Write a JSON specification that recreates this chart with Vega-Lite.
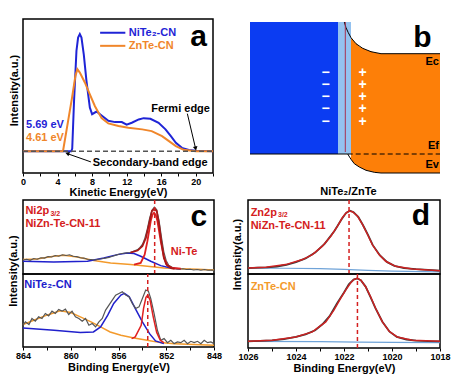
{
"$schema": "https://vega.github.io/schema/vega-lite/v6.json",
"padding": {"left": 6, "top": 18, "right": 0, "bottom": 0},
"config": {
  "font": "Liberation Sans",
  "view": {"stroke": "#000", "strokeWidth": 1.5},
  "axis": {"grid": false, "domain": false, "labelFont": "Liberation Sans", "labelFontWeight": "bold", "labelFontSize": 9, "labelColor": "#000", "labelPadding": 1, "labelFlush": false, "labelOverlap": false, "titleFont": "Liberation Sans", "titleFontWeight": "bold", "titleFontSize": 11, "titleColor": "#000", "tickColor": "#000", "tickSize": 3, "tickWidth": 1},
  "text": {"font": "Liberation Sans", "fontWeight": "bold"}
},
"datasets": {
  "aBlue": [{"e":0,"i":0},{"e":5.6,"i":0},{"e":5.7,"i":0.02},{"e":5.91,"i":0.38},{"e":6.19,"i":0.76},{"e":6.38,"i":0.86},{"e":6.58,"i":0.886},{"e":6.77,"i":0.86},{"e":7.04,"i":0.73},{"e":7.35,"i":0.53},{"e":7.74,"i":0.33},{"e":8.0,"i":0.28},{"e":8.52,"i":0.3},{"e":9.1,"i":0.27},{"e":9.88,"i":0.23},{"e":10.66,"i":0.22},{"e":11.44,"i":0.22},{"e":12.0,"i":0.2},{"e":12.6,"i":0.215},{"e":13.4,"i":0.24},{"e":13.97,"i":0.25},{"e":14.75,"i":0.245},{"e":15.7,"i":0.215},{"e":16.5,"i":0.165},{"e":17.1,"i":0.115},{"e":17.7,"i":0.063},{"e":18.4,"i":0.025},{"e":19.2,"i":0.01},{"e":20,"i":0.003},{"e":22,"i":0}],
  "aOrange": [{"e":0,"i":0},{"e":4.63,"i":0},{"e":5.68,"i":0.405},{"e":6.07,"i":0.57},{"e":6.3,"i":0.62},{"e":6.58,"i":0.595},{"e":7.16,"i":0.52},{"e":7.74,"i":0.43},{"e":8.33,"i":0.34},{"e":9.1,"i":0.25},{"e":9.88,"i":0.21},{"e":11.05,"i":0.19},{"e":12.2,"i":0.177},{"e":13.8,"i":0.165},{"e":14.9,"i":0.152},{"e":16.1,"i":0.114},{"e":16.9,"i":0.076},{"e":17.7,"i":0.038},{"e":18.6,"i":0.01},{"e":20,"i":0},{"e":22,"i":0}],
  "aBase": [{"e":0,"e2":22,"i":0}],
  "aLegend": [{"e":8.93,"e2":11.85,"i":0.896,"s":"NiTe₂-CN"},{"e":8.93,"e2":11.85,"i":0.797,"s":"ZnTe-CN"}],
  "aArrows": [{"e":19.03,"i":0.284,"e2":19.95,"i2":0.03},{"e":7.86,"i":-0.081,"e2":5.2,"i2":-0.02}],
  "aHeadF": [{"e":19.97,"i":0.025}],
  "aHeadS": [{"e":5.2,"i":-0.019}],
  "aText": [{"e":0.35,"i":0.197,"t":"5.69 eV","s":"NiTe₂-CN"},{"e":0.35,"i":0.099,"t":"4.61 eV","s":"ZnTe-CN"},{"e":14.85,"i":0.319,"t":"Fermi edge","s":"note"},{"e":8.07,"i":-0.091,"t":"Secondary-band edge","s":"note"},{"e":12.24,"i":0.896,"t":"NiTe₂-CN","s":"NiTe₂-CN"},{"e":12.24,"i":0.797,"t":"ZnTe-CN","s":"ZnTe-CN"}],
  "aLetter": [{"e":20.33,"i":0.797,"t":"a"}],
  "bBlue": [{"e":0,"e2":88,"i":19,"i2":151}],
  "bLight": [{"e":88,"e2":101,"i":19,"i2":151}],
  "bOrange": [{"e":101,"i":135.3,"i2":13.7},{"e":104.3,"i":131.3,"i2":9.3},{"e":109.3,"i":126.5,"i2":6},{"e":116,"i":123.3,"i2":2.7},{"e":124.3,"i":120.5,"i2":0.7},{"e":131,"i":119.3,"i2":0},{"e":190,"i":119.3,"i2":0}],
  "bTop": [{"e":94.3,"i":151},{"e":96,"i":145.3},{"e":98.3,"i":140.3},{"e":101,"i":135.3},{"e":106,"i":129.3},{"e":112.7,"i":124.7},{"e":121,"i":121.3},{"e":131,"i":119.3},{"e":190,"i":119.3}],
  "bBottom": [{"e":97.7,"i":19},{"e":101,"i":13.7},{"e":104.3,"i":9.3},{"e":109.3,"i":6},{"e":116,"i":2.7},{"e":124.3,"i":0.7},{"e":131,"i":0},{"e":190,"i":0}],
  "bRed": [{"e":95.3,"i":21,"i2":151}],
  "bSolid": [{"e":0,"e2":97.7,"i":19}],
  "bDash": [{"e":97.7,"e2":190,"i":19}],
  "bSigns": [{"e":75.7,"i":99.7,"t":"−"},{"e":75.7,"i":88,"t":"−"},{"e":75.7,"i":76,"t":"−"},{"e":75.7,"i":63.7,"t":"−"},{"e":75.7,"i":51.3,"t":"−"},{"e":112.7,"i":99.7,"t":"+"},{"e":112.7,"i":88,"t":"+"},{"e":112.7,"i":76,"t":"+"},{"e":112.7,"i":63.7,"t":"+"},{"e":112.7,"i":51.3,"t":"+"}],
  "bLabels": [{"e":189,"i":111,"t":"Ec"},{"e":189,"i":27,"t":"Ef"},{"e":189,"i":8,"t":"Ev"}],
  "bLetter": [{"e":172.5,"i":126,"t":"b"}],
  "c1Orange": [{"e":864,"i":0.195},{"e":862.83,"i":0.204},{"e":861.43,"i":0.24},{"e":860.59,"i":0.253},{"e":859.46,"i":0.231},{"e":858.07,"i":0.181},{"e":856.66,"i":0.149},{"e":854.98,"i":0.127},{"e":853.58,"i":0.104},{"e":852.18,"i":0.081},{"e":850.78,"i":0.072},{"e":849.38,"i":0.063},{"e":848,"i":0.054}],
  "c1Blue": [{"e":864,"i":0.172},{"e":861.43,"i":0.163},{"e":858.6,"i":0.172},{"e":857.23,"i":0.217},{"e":856.1,"i":0.262},{"e":855.26,"i":0.285},{"e":854.7,"i":0.276},{"e":854.14,"i":0.24},{"e":853.3,"i":0.172},{"e":852.46,"i":0.113},{"e":851.62,"i":0.081},{"e":850.78,"i":0.068}],
  "c1Gray": [{"e":864,"i":0.19},{"e":863.7,"i":0.2},{"e":863.4,"i":0.185},{"e":863.1,"i":0.21},{"e":862.8,"i":0.2},{"e":862.5,"i":0.22},{"e":862.2,"i":0.215},{"e":861.9,"i":0.235},{"e":861.6,"i":0.23},{"e":861.3,"i":0.25},{"e":861.0,"i":0.24},{"e":860.7,"i":0.26},{"e":860.4,"i":0.25},{"e":860.1,"i":0.26},{"e":859.8,"i":0.24},{"e":859.5,"i":0.235},{"e":859.2,"i":0.22},{"e":858.9,"i":0.215},{"e":858.6,"i":0.2},{"e":858.3,"i":0.195},{"e":858.0,"i":0.19},{"e":857.7,"i":0.2},{"e":857.4,"i":0.205},{"e":857.1,"i":0.215},{"e":856.8,"i":0.225},{"e":856.5,"i":0.24},{"e":856.2,"i":0.255},{"e":855.9,"i":0.27},{"e":855.6,"i":0.28},{"e":855.3,"i":0.285},{"e":855.0,"i":0.29},{"e":854.7,"i":0.31},{"e":854.4,"i":0.33},{"e":854.2,"i":0.36},{"e":854.0,"i":0.4},{"e":853.8,"i":0.48},{"e":853.6,"i":0.6},{"e":853.4,"i":0.75},{"e":853.2,"i":0.86},{"e":853.0,"i":0.905},{"e":852.8,"i":0.87},{"e":852.6,"i":0.72},{"e":852.4,"i":0.5},{"e":852.2,"i":0.3},{"e":852.0,"i":0.18},{"e":851.8,"i":0.12},{"e":851.5,"i":0.09},{"e":851.2,"i":0.07},{"e":850.9,"i":0.065},{"e":850.6,"i":0.07},{"e":850.3,"i":0.06},{"e":850.0,"i":0.065},{"e":849.7,"i":0.055},{"e":849.4,"i":0.06},{"e":849.1,"i":0.05},{"e":848.8,"i":0.06},{"e":848.5,"i":0.05},{"e":848.2,"i":0.055},{"e":848,"i":0.05}],
  "c1Red": [{"e":854.7,"i":0.127},{"e":854.14,"i":0.149},{"e":853.81,"i":0.262},{"e":853.58,"i":0.443},{"e":853.3,"i":0.715},{"e":853.16,"i":0.8},{"e":853.02,"i":0.828},{"e":852.88,"i":0.8},{"e":852.74,"i":0.715},{"e":852.46,"i":0.443},{"e":852.18,"i":0.217},{"e":851.9,"i":0.113},{"e":851.48,"i":0.081},{"e":850.78,"i":0.072}],
  "c1Env": [{"e":855.0,"i":0.29},{"e":854.4,"i":0.317},{"e":854.0,"i":0.376},{"e":853.7,"i":0.489},{"e":853.45,"i":0.67},{"e":853.2,"i":0.851},{"e":853.0,"i":0.882},{"e":852.8,"i":0.851},{"e":852.6,"i":0.67},{"e":852.4,"i":0.42},{"e":852.2,"i":0.22},{"e":852.0,"i":0.13},{"e":851.6,"i":0.08},{"e":851.3,"i":0.07}],
  "c1Dash": [{"e":852.97,"i":0,"i2":1}],
  "c1Text": [{"e":863.8,"i":0.847,"t":"Ni2p"},{"e":863.8,"i":0.676,"t":"NiZn-Te-CN-11"},{"e":851.62,"i":0.293,"t":"Ni-Te"}],
  "c1Sub": [{"e":861.7,"i":0.815,"t":"3/2"}],
  "c1Letter": [{"e":849.27,"i":0.65,"t":"c"}],
  "c2Orange": [{"e":864,"i":0.307},{"e":863.1,"i":0.367},{"e":862.0,"i":0.436},{"e":860.9,"i":0.495},{"e":860.0,"i":0.472},{"e":859.2,"i":0.413},{"e":858.3,"i":0.344},{"e":857.5,"i":0.275},{"e":856.7,"i":0.206},{"e":855.8,"i":0.161},{"e":854.7,"i":0.124},{"e":853.6,"i":0.092},{"e":852.5,"i":0.06},{"e":851.3,"i":0.046},{"e":850.2,"i":0.037},{"e":848,"i":0.023}],
  "c2Blue": [{"e":864,"i":0.261},{"e":861.4,"i":0.229},{"e":859.2,"i":0.197},{"e":858.1,"i":0.206},{"e":857.5,"i":0.275},{"e":856.9,"i":0.436},{"e":856.4,"i":0.596},{"e":855.8,"i":0.711},{"e":855.5,"i":0.734},{"e":855.1,"i":0.688},{"e":854.6,"i":0.528},{"e":854.0,"i":0.344},{"e":853.4,"i":0.183},{"e":852.9,"i":0.083},{"e":852.2,"i":0.046}],
  "c2Gray": [{"e":864,"i":0.3},{"e":863.8,"i":0.344},{"e":863.5,"i":0.307},{"e":863.25,"i":0.39},{"e":862.97,"i":0.353},{"e":862.69,"i":0.413},{"e":862.41,"i":0.39},{"e":862.13,"i":0.459},{"e":861.85,"i":0.427},{"e":861.57,"i":0.491},{"e":861.29,"i":0.459},{"e":861.01,"i":0.514},{"e":860.73,"i":0.491},{"e":860.45,"i":0.518},{"e":860.17,"i":0.445},{"e":859.89,"i":0.491},{"e":859.61,"i":0.413},{"e":859.32,"i":0.39},{"e":859.04,"i":0.353},{"e":858.76,"i":0.39},{"e":858.48,"i":0.298},{"e":858.2,"i":0.321},{"e":857.92,"i":0.275},{"e":857.64,"i":0.344},{"e":857.36,"i":0.39},{"e":857.08,"i":0.505},{"e":856.8,"i":0.573},{"e":856.52,"i":0.642},{"e":856.24,"i":0.711},{"e":855.96,"i":0.734},{"e":855.68,"i":0.757},{"e":855.4,"i":0.711},{"e":855.12,"i":0.688},{"e":854.84,"i":0.596},{"e":854.56,"i":0.528},{"e":854.28,"i":0.55},{"e":854.0,"i":0.665},{"e":853.72,"i":0.78},{"e":853.5,"i":0.766},{"e":853.3,"i":0.665},{"e":853.02,"i":0.459},{"e":852.74,"i":0.229},{"e":852.46,"i":0.092},{"e":852.18,"i":0.115},{"e":851.9,"i":0.06},{"e":851.62,"i":0.092},{"e":851.34,"i":0.046},{"e":851.06,"i":0.069},{"e":850.78,"i":0.06},{"e":850.5,"i":0.092},{"e":850.22,"i":0.046},{"e":849.94,"i":0.078},{"e":849.66,"i":0.06},{"e":849.38,"i":0.078},{"e":849.1,"i":0.046},{"e":848.82,"i":0.092},{"e":848.54,"i":0.06},{"e":848.26,"i":0.069},{"e":848,"i":0.046}],
  "c2Red": [{"e":854.9,"i":0.115},{"e":854.6,"i":0.138},{"e":854.1,"i":0.298},{"e":853.9,"i":0.528},{"e":853.7,"i":0.68},{"e":853.55,"i":0.711},{"e":853.35,"i":0.64},{"e":853.1,"i":0.42},{"e":852.8,"i":0.2},{"e":852.5,"i":0.092},{"e":852.2,"i":0.06}],
  "c2Dash": [{"e":853.55,"i":0,"i2":1}],
  "c2Text": [{"e":863.9,"i":0.849,"t":"NiTe₂-CN"}],
  "d1Gray": [{"e":1026,"i":0.08},{"e":1025.6,"i":0.085},{"e":1025.2,"i":0.09},{"e":1024.8,"i":0.1},{"e":1024.4,"i":0.125},{"e":1024.0,"i":0.16},{"e":1023.6,"i":0.21},{"e":1023.2,"i":0.29},{"e":1022.8,"i":0.41},{"e":1022.4,"i":0.58},{"e":1022.1,"i":0.74},{"e":1021.9,"i":0.83},{"e":1021.75,"i":0.855},{"e":1021.6,"i":0.835},{"e":1021.4,"i":0.77},{"e":1021.2,"i":0.655},{"e":1021.0,"i":0.53},{"e":1020.8,"i":0.39},{"e":1020.5,"i":0.25},{"e":1020.2,"i":0.16},{"e":1019.9,"i":0.11},{"e":1019.5,"i":0.08},{"e":1019.0,"i":0.065},{"e":1018.5,"i":0.055},{"e":1018,"i":0.045}],
  "d1Red": [{"e":1026,"i":0.081},{"e":1025.26,"i":0.09},{"e":1024.43,"i":0.127},{"e":1023.73,"i":0.195},{"e":1023.32,"i":0.262},{"e":1022.9,"i":0.376},{"e":1022.55,"i":0.511},{"e":1022.27,"i":0.647},{"e":1022.07,"i":0.76},{"e":1021.93,"i":0.819},{"e":1021.79,"i":0.851},{"e":1021.65,"i":0.842},{"e":1021.44,"i":0.783},{"e":1021.23,"i":0.67},{"e":1021.02,"i":0.534},{"e":1020.82,"i":0.398},{"e":1020.54,"i":0.262},{"e":1020.26,"i":0.172},{"e":1019.85,"i":0.104},{"e":1019.15,"i":0.068},{"e":1018,"i":0.045}],
  "d1Bg": [{"e":1026,"i":0.08},{"e":1024.5,"i":0.078},{"e":1023,"i":0.072},{"e":1022,"i":0.062},{"e":1021,"i":0.048},{"e":1020,"i":0.038},{"e":1018,"i":0.03}],
  "d1Dash": [{"e":1021.79,"i":0,"i2":1}],
  "d1Text": [{"e":1025.89,"i":0.824,"t":"Zn2p"},{"e":1025.89,"i":0.649,"t":"NiZn-Te-CN-11"}],
  "d1Sub": [{"e":1024.75,"i":0.792,"t":"3/2"}],
  "d1Letter": [{"e":1018.8,"i":0.662,"t":"d"}],
  "d2Gray": [{"e":1026,"i":0.09},{"e":1025.5,"i":0.095},{"e":1025,"i":0.104},{"e":1024.5,"i":0.12},{"e":1024,"i":0.15},{"e":1023.6,"i":0.185},{"e":1023.2,"i":0.24},{"e":1022.9,"i":0.32},{"e":1022.6,"i":0.43},{"e":1022.3,"i":0.6},{"e":1022.0,"i":0.75},{"e":1021.8,"i":0.86},{"e":1021.6,"i":0.925},{"e":1021.45,"i":0.94},{"e":1021.3,"i":0.915},{"e":1021.1,"i":0.83},{"e":1020.9,"i":0.69},{"e":1020.7,"i":0.545},{"e":1020.4,"i":0.355},{"e":1020.1,"i":0.22},{"e":1019.8,"i":0.15},{"e":1019.4,"i":0.115},{"e":1019,"i":0.1},{"e":1018.5,"i":0.092},{"e":1018,"i":0.09}],
  "d2Red": [{"e":1026,"i":0.09},{"e":1024.98,"i":0.104},{"e":1024.01,"i":0.149},{"e":1023.32,"i":0.217},{"e":1022.76,"i":0.353},{"e":1022.42,"i":0.511},{"e":1022.14,"i":0.67},{"e":1021.93,"i":0.783},{"e":1021.72,"i":0.882},{"e":1021.58,"i":0.928},{"e":1021.44,"i":0.941},{"e":1021.3,"i":0.919},{"e":1021.1,"i":0.828},{"e":1020.89,"i":0.692},{"e":1020.68,"i":0.534},{"e":1020.4,"i":0.353},{"e":1020.12,"i":0.226},{"e":1019.78,"i":0.149},{"e":1019.15,"i":0.104},{"e":1018,"i":0.09}],
  "d2Bg": [{"e":1026,"i":0.09},{"e":1023,"i":0.085},{"e":1021.4,"i":0.08},{"e":1020,"i":0.075},{"e":1018,"i":0.072}],
  "d2Dash": [{"e":1021.44,"i":0,"i2":1}],
  "d2Text": [{"e":1025.89,"i":0.824,"t":"ZnTe-CN"}]
},
"spacing": 0,
"vconcat": [
  {"hconcat": [
    {"width": 190, "height": 154,
     "encoding": {
       "x": {"field": "e", "type": "quantitative", "scale": {"domain": [0, 22], "nice": false}, "axis": {"values": [0,2,4,6,8,10,12,14,16,18,20,22], "format": "d", "labelExpr": "datum.value % 4 == 0 && datum.value <= 20 ? datum.label : ''", "title": "Kinetic Energy(eV)", "titlePadding": 0}},
       "y": {"field": "i", "type": "quantitative", "scale": {"domain": [-0.165, 1], "nice": false}, "axis": {"labels": false, "ticks": false, "title": "Intensity(a.u.)", "titlePadding": 4, "titleY": 71}}
     },
     "layer": [
       {"data": {"name": "aBlue"}, "mark": {"type": "line", "color": "#1f24d6", "strokeWidth": 2}},
       {"data": {"name": "aOrange"}, "mark": {"type": "line", "color": "#f0862a", "strokeWidth": 2}},
       {"data": {"name": "aBase"}, "mark": {"type": "rule", "color": "#555555", "strokeWidth": 1.5, "strokeDash": [5, 3]}, "encoding": {"x2": {"field": "e2"}}},
       {"data": {"name": "aLegend"}, "mark": {"type": "rule", "strokeWidth": 2}, "encoding": {"x2": {"field": "e2"}, "color": {"field": "s", "type": "nominal", "scale": {"domain": ["NiTe₂-CN", "ZnTe-CN", "note"], "range": ["#1f24d6", "#f0862a", "#000000"]}, "legend": null}}},
       {"data": {"name": "aArrows"}, "mark": {"type": "rule", "color": "#000", "strokeWidth": 1}, "encoding": {"x2": {"field": "e2"}, "y2": {"field": "i2"}}},
       {"data": {"name": "aHeadF"}, "mark": {"type": "point", "shape": "triangle", "angle": 167, "filled": true, "color": "#000", "size": 22, "opacity": 1}},
       {"data": {"name": "aHeadS"}, "mark": {"type": "point", "shape": "triangle", "angle": 290, "filled": true, "color": "#000", "size": 22, "opacity": 1}},
       {"data": {"name": "aText"}, "mark": {"type": "text", "align": "left", "baseline": "middle", "fontSize": 11}, "encoding": {"text": {"field": "t"}, "color": {"field": "s", "type": "nominal", "scale": {"domain": ["NiTe₂-CN", "ZnTe-CN", "note"], "range": ["#1f24d6", "#f0862a", "#000000"]}, "legend": null}}},
       {"data": {"name": "aLetter"}, "mark": {"type": "text", "align": "center", "baseline": "alphabetic", "fontSize": 30, "color": "#000"}, "encoding": {"text": {"field": "t"}}}
     ]},
    {"width": 190, "height": 154, "view": {"stroke": null},
     "encoding": {
       "x": {"field": "e", "type": "quantitative", "scale": {"domain": [0, 190], "nice": false, "zero": false}, "axis": {"title": "NiTe₂/ZnTe", "labels": false, "ticks": false, "domain": false, "titlePadding": 12, "titleX": 98}},
       "y": {"field": "i", "type": "quantitative", "scale": {"domain": [0, 154], "nice": false}, "axis": null}
     },
     "layer": [
       {"data": {"name": "bBlue"}, "mark": {"type": "rect", "color": "#0b3cf2"}, "encoding": {"x2": {"field": "e2"}, "y2": {"field": "i2"}}},
       {"data": {"name": "bLight"}, "mark": {"type": "rect", "color": "#94c2f0"}, "encoding": {"x2": {"field": "e2"}, "y2": {"field": "i2"}}},
       {"data": {"name": "bOrange"}, "mark": {"type": "area", "color": "#fd7f08", "opacity": 1}, "encoding": {"y2": {"field": "i2"}}},
       {"data": {"name": "bTop"}, "mark": {"type": "line", "color": "#000", "strokeWidth": 1}},
       {"data": {"name": "bBottom"}, "mark": {"type": "line", "color": "#000", "strokeWidth": 1}},
       {"data": {"name": "bRed"}, "mark": {"type": "rule", "color": "#a83050", "strokeWidth": 1}, "encoding": {"y2": {"field": "i2"}}},
       {"data": {"name": "bSolid"}, "mark": {"type": "rule", "color": "#000", "strokeWidth": 1.2}, "encoding": {"x2": {"field": "e2"}}},
       {"data": {"name": "bDash"}, "mark": {"type": "rule", "color": "#000", "strokeWidth": 1, "strokeDash": [5, 3]}, "encoding": {"x2": {"field": "e2"}}},
       {"data": {"name": "bSigns"}, "mark": {"type": "text", "color": "#ffffff", "fontSize": 14, "align": "center", "baseline": "middle"}, "encoding": {"text": {"field": "t"}}},
       {"data": {"name": "bLabels"}, "mark": {"type": "text", "color": "#000", "fontSize": 11, "align": "right", "baseline": "middle"}, "encoding": {"text": {"field": "t"}}},
       {"data": {"name": "bLetter"}, "mark": {"type": "text", "color": "#000", "fontSize": 30, "align": "center", "baseline": "alphabetic"}, "encoding": {"text": {"field": "t"}}}
     ]}
  ], "spacing": 31},
  {"hconcat": [
    {"vconcat": [
      {"width": 191, "height": 74,
       "encoding": {
         "x": {"field": "e", "type": "quantitative", "scale": {"domain": [848, 864], "reverse": true, "nice": false, "zero": false}, "axis": null},
         "y": {"field": "i", "type": "quantitative", "scale": {"domain": [0, 1], "nice": false}, "axis": {"labels": false, "ticks": false, "title": "Intensity(a.u.)", "titlePadding": 5, "titleY": 70.5}}
       },
       "layer": [
         {"data": {"name": "c1Orange"}, "mark": {"type": "line", "color": "#f39a2b", "strokeWidth": 1.5}},
         {"data": {"name": "c1Blue"}, "mark": {"type": "line", "color": "#2020cc", "strokeWidth": 1.5}},
         {"data": {"name": "c1Gray"}, "mark": {"type": "line", "color": "#555555", "strokeWidth": 1.1}},
         {"data": {"name": "c1Red"}, "mark": {"type": "line", "color": "#e02020", "strokeWidth": 1.8}},
         {"data": {"name": "c1Env"}, "mark": {"type": "line", "color": "#a81818", "strokeWidth": 1.8}},
         {"data": {"name": "c1Dash"}, "mark": {"type": "rule", "color": "#d42020", "strokeWidth": 1.5, "strokeDash": [4, 3]}, "encoding": {"y2": {"field": "i2"}}},
         {"data": {"name": "c1Text"}, "mark": {"type": "text", "color": "#d42020", "fontSize": 11, "align": "left", "baseline": "middle"}, "encoding": {"text": {"field": "t"}}},
         {"data": {"name": "c1Sub"}, "mark": {"type": "text", "color": "#d42020", "fontSize": 7, "align": "left", "baseline": "middle"}, "encoding": {"text": {"field": "t"}}},
         {"data": {"name": "c1Letter"}, "mark": {"type": "text", "color": "#000", "fontSize": 30, "align": "center", "baseline": "alphabetic"}, "encoding": {"text": {"field": "t"}}}
       ]},
      {"width": 191, "height": 73,
       "encoding": {
         "x": {"field": "e", "type": "quantitative", "scale": {"domain": [848, 864], "reverse": true, "nice": false, "zero": false}, "axis": {"values": [848,850,852,854,856,858,860,862,864], "format": "d", "labelExpr": "datum.value % 4 == 0 ? datum.label : ''", "title": "Binding Energy(eV)", "titlePadding": 1}},
         "y": {"field": "i", "type": "quantitative", "scale": {"domain": [0, 1], "nice": false}, "axis": null}
       },
       "layer": [
         {"data": {"name": "c2Orange"}, "mark": {"type": "line", "color": "#f39a2b", "strokeWidth": 1.5}},
         {"data": {"name": "c2Blue"}, "mark": {"type": "line", "color": "#2020cc", "strokeWidth": 1.5}},
         {"data": {"name": "c2Gray"}, "mark": {"type": "line", "color": "#555555", "strokeWidth": 1.2}},
         {"data": {"name": "c2Red"}, "mark": {"type": "line", "color": "#e02020", "strokeWidth": 1.5}},
         {"data": {"name": "c2Dash"}, "mark": {"type": "rule", "color": "#d42020", "strokeWidth": 1.5, "strokeDash": [4, 3]}, "encoding": {"y2": {"field": "i2"}}},
         {"data": {"name": "c2Text"}, "mark": {"type": "text", "color": "#2020cc", "fontSize": 11, "align": "left", "baseline": "middle"}, "encoding": {"text": {"field": "t"}}}
       ]}
    ], "spacing": 0, "bounds": "flush"},
    {"vconcat": [
      {"width": 192, "height": 74,
       "encoding": {
         "x": {"field": "e", "type": "quantitative", "scale": {"domain": [1018, 1026], "reverse": true, "nice": false, "zero": false}, "axis": null},
         "y": {"field": "i", "type": "quantitative", "scale": {"domain": [0, 1], "nice": false}, "axis": {"labels": false, "ticks": false, "title": "Intensity(a.u.)", "titlePadding": 6, "titleY": 54}}
       },
       "layer": [
         {"data": {"name": "d1Bg"}, "mark": {"type": "line", "color": "#6fa3d8", "strokeWidth": 1.2}},
         {"data": {"name": "d1Gray"}, "mark": {"type": "line", "color": "#3a3a3a", "strokeWidth": 1.8}},
         {"data": {"name": "d1Red"}, "mark": {"type": "line", "color": "#cc2222", "strokeWidth": 1.5}},
         {"data": {"name": "d1Dash"}, "mark": {"type": "rule", "color": "#d42020", "strokeWidth": 1.5, "strokeDash": [4, 3]}, "encoding": {"y2": {"field": "i2"}}},
         {"data": {"name": "d1Text"}, "mark": {"type": "text", "color": "#d42020", "fontSize": 11, "align": "left", "baseline": "middle"}, "encoding": {"text": {"field": "t"}}},
         {"data": {"name": "d1Sub"}, "mark": {"type": "text", "color": "#d42020", "fontSize": 7, "align": "left", "baseline": "middle"}, "encoding": {"text": {"field": "t"}}},
         {"data": {"name": "d1Letter"}, "mark": {"type": "text", "color": "#000", "fontSize": 30, "align": "center", "baseline": "alphabetic"}, "encoding": {"text": {"field": "t"}}}
       ]},
      {"width": 192, "height": 74,
       "encoding": {
         "x": {"field": "e", "type": "quantitative", "scale": {"domain": [1018, 1026], "reverse": true, "nice": false, "zero": false}, "axis": {"values": [1018,1019,1020,1021,1022,1023,1024,1025,1026], "format": "d", "labelExpr": "datum.value % 2 == 0 ? datum.label : ''", "title": "Binding Energy(eV)", "titlePadding": 1}},
         "y": {"field": "i", "type": "quantitative", "scale": {"domain": [0, 1], "nice": false}, "axis": null}
       },
       "layer": [
         {"data": {"name": "d2Bg"}, "mark": {"type": "line", "color": "#6fa3d8", "strokeWidth": 1.2}},
         {"data": {"name": "d2Gray"}, "mark": {"type": "line", "color": "#3a3a3a", "strokeWidth": 1.8}},
         {"data": {"name": "d2Red"}, "mark": {"type": "line", "color": "#cc2222", "strokeWidth": 1.5}},
         {"data": {"name": "d2Dash"}, "mark": {"type": "rule", "color": "#d42020", "strokeWidth": 1.5, "strokeDash": [4, 3]}, "encoding": {"y2": {"field": "i2"}}},
         {"data": {"name": "d2Text"}, "mark": {"type": "text", "color": "#f39a2b", "fontSize": 11, "align": "left", "baseline": "middle"}, "encoding": {"text": {"field": "t"}}}
       ]}
    ], "spacing": 0, "bounds": "flush"}
  ], "spacing": 7}
]
}
